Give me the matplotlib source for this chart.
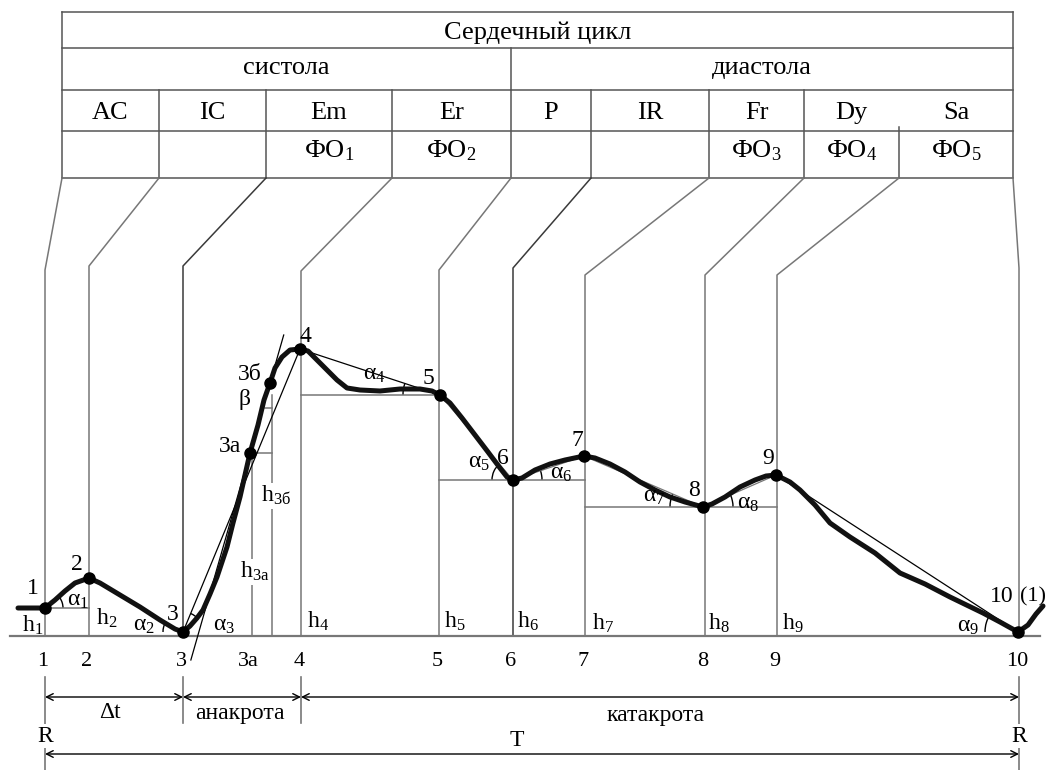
import numpy as np
import matplotlib.pyplot as plt
from matplotlib.patches import Arc

plt.rcParams['font.family'] = ['Liberation Serif', 'DejaVu Serif']
plt.rcParams['mathtext.fontset'] = 'custom'
plt.rcParams['mathtext.rm'] = 'Liberation Serif'
plt.rcParams['mathtext.it'] = 'Liberation Serif'
plt.rcParams['mathtext.bf'] = 'Liberation Serif'

# --- cardiac cycle table ---
cycle_title = 'Сердечный цикл'
period_names = ['систола', 'диастола']
phase_names = ['AC', 'IC', 'Em', 'Er', 'P', 'IR', 'Fr', 'Dy', 'Sa']
phase_fo = [None, None, 1, 2, None, None, 3, 4, 5]
phase_edges = [62, 159, 266, 392, 511, 591, 709, 804, 899, 1013]
period_split = 511

# --- time marks on the wave ---
mark_names = ['1', '2', '3', '4', '5', '6', '7', '8', '9', '10']
mark_t = [45, 89, 183, 301, 439, 513, 585, 705, 777, 1019]
mark_knee = [366, 370, 370, 365, 366, 368, 361, 361, 361, 368]
mark_3a, mark_3b = 252, 272

# --- characteristic points of the pulse wave ---
pt_names = ['1', '2', '3', '3а', '3б', '4', '5', '6', '7', '8', '9', '10']
pt_t = [45, 89, 183, 250, 270, 300, 440, 513, 584, 703, 776, 1018]
pt_h = [28, 58, 4, 183, 253, 287, 241, 156, 180, 129, 161, 4]

# traced wave contour
wave_t = [18, 45, 55, 65, 75, 89, 100, 120, 140, 160, 175, 183, 190, 197, 203, 210,
          217, 227, 233, 240, 250, 258, 264, 270, 275, 282, 290, 300, 308, 315, 325,
          337, 347, 360, 380, 400, 420, 432, 440, 450, 462, 475, 488, 500, 507, 513,
          522, 535, 550, 565, 584, 595, 610, 625, 640, 655, 670, 685, 703, 712, 725,
          740, 755, 766, 776, 790, 800, 815, 830, 850, 875, 900, 925, 950, 983, 1000,
          1018, 1028, 1036, 1043]
wave_h = [28, 28, 36, 45, 53, 58, 53, 41, 29, 16, 7, 4, 10, 18, 26, 42,
          59, 89, 113, 139, 183, 211, 236, 253, 268, 279, 286, 287, 285, 278, 268,
          256, 248, 246, 245, 247, 247, 245, 241, 233, 218, 201, 184, 168, 159, 156,
          158, 166, 172, 176, 180, 178, 172, 164, 154, 146, 139, 134, 129, 132, 139,
          149, 156, 160, 161, 154, 146, 131, 113, 99, 83, 63, 52, 39, 23, 14,
          4, 11, 22, 30]

FS = 17
TAB_FS = 19
GRAY = '#777777'
DARK = '#3a3a3a'

fig = plt.figure(figsize=(10.46, 7.70), dpi=100)
ax = fig.add_axes([0, 0, 1, 1])
ax.set_xlim(0, 1046)
ax.set_ylim(-134, 636)
ax.axis('off')

# table
rows = [624, 588, 546, 505, 458]
x0, x1 = phase_edges[0], phase_edges[-1]
for r in rows:
    ax.plot([x0, x1], [r, r], color='#555555', lw=1.1)
for x in (x0, x1):
    ax.plot([x, x], [rows[0], rows[-1]], color='#555555', lw=1.1)
ax.plot([period_split, period_split], [rows[1], rows[2]], color='#555555', lw=1.1)
for i, x in enumerate(phase_edges[1:-1], start=1):
    top = rows[2] if phase_names[i] != 'Sa' else 509
    ax.plot([x, x], [top, rows[-1]], color='#555555', lw=1.1)

ax.text((x0 + x1) / 2, 597, cycle_title, ha='center', va='baseline', fontsize=TAB_FS)
ax.text((x0 + period_split) / 2, 562, period_names[0], ha='center', va='baseline', fontsize=TAB_FS)
ax.text((period_split + x1) / 2, 562, period_names[1], ha='center', va='baseline', fontsize=TAB_FS)
for i, name in enumerate(phase_names):
    cx = (phase_edges[i] + phase_edges[i + 1]) / 2
    ax.text(cx, 517, name, ha='center', va='baseline', fontsize=TAB_FS)
    if phase_fo[i] is not None:
        ax.text(cx, 479, r'$\mathrm{ФО}_{%d}$' % phase_fo[i], ha='center',
                va='baseline', fontsize=TAB_FS)

# connectors from table columns down to the time marks
for i, (ex, mx, kh) in enumerate(zip(phase_edges, mark_t, mark_knee)):
    col = DARK if mark_names[i] in ('3', '6') else GRAY
    ax.plot([ex, mx, mx], [rows[-1], kh, 0], color=col, lw=1.1)

# baseline
ax.plot([10, 1040], [0, 0], color=GRAY, lw=1.6)

# auxiliary verticals at 3а and 3б
ax.plot([mark_3a, mark_3a], [pt_h[3], 0], color=GRAY, lw=1.1)
ax.plot([mark_3b, mark_3b], [241, 0], color=GRAY, lw=1.1)

# horizontal levels
levels = [(mark_t[0], mark_t[1], pt_h[0]),
          (pt_t[3], mark_3b, pt_h[3]),
          (265, mark_3b, 228),
          (mark_t[3], mark_t[4], pt_h[6]),
          (mark_t[4], mark_t[6], pt_h[7]),
          (mark_t[6], mark_t[8], pt_h[9])]
for a, b, h in levels:
    ax.plot([a, b], [h, h], color=GRAY, lw=1.1)


def P(name):
    i = pt_names.index(name)
    return np.array([pt_t[i], pt_h[i]], float)


def ang(a, b):
    d = P(b) - P(a)
    return np.degrees(np.arctan2(d[1], d[0]))


# chords between characteristic points
for a, b, c in [('3', '4', 'k'), ('4', '5', 'k'), ('9', '10', 'k'),
                ('5', '6', GRAY), ('6', '7', GRAY), ('7', '8', GRAY), ('8', '9', GRAY)]:
    pa, pb = P(a), P(b)
    ax.plot([pa[0], pb[0]], [pa[1], pb[1]], color=c, lw=0.9)

# tangent through 3а - 3б, extended
pa, pb = P('3а'), P('3б')
k = (pb[1] - pa[1]) / (pb[0] - pa[0])
hs = np.array([-24, 301])
ax.plot(pa[0] + (hs - pa[1]) / k, hs, color='k', lw=0.9)

# angle arcs
arcs = [('1', 18, 0, ang('1', '2')),
        ('3', 20, ang('3', '2'), 180),
        ('3', 20, 40, ang('3', '4')),
        ('5', 37, ang('5', '4'), 180),
        ('6', 21, ang('6', '5'), 180),
        ('6', 29, 0, ang('6', '7')),
        ('8', 33, ang('8', '7'), 180),
        ('8', 30, 0, ang('8', '9')),
        ('10', 33, ang('10', '9'), 180)]
for name, r, t1, t2 in arcs:
    ax.add_patch(Arc(P(name), 2 * r, 2 * r, theta1=t1, theta2=t2, color='k', lw=1.0))

# pulse wave
ax.plot(wave_t, wave_h, color='#111111', lw=3.6, solid_joinstyle='round',
        solid_capstyle='round')
ax.plot(pt_t, pt_h, 'o', color='k', ms=8)

# point labels
pt_off = {'1': (-12, 20), '2': (-12, 13), '3': (-10, 17), '3а': (-20, 6),
          '3б': (-20, 8), '4': (5, 12), '5': (-12, 17), '6': (-10, 22),
          '7': (-7, 16), '8': (-9, 17), '9': (-8, 17)}
for name, (dx, dy) in pt_off.items():
    p = P(name)
    ax.text(p[0] + dx, p[1] + dy, name, ha='center', va='center', fontsize=FS)
p10 = P('10')
ax.text(p10[0] - 4, 39, '10', ha='right', va='center', fontsize=FS)
ax.text(p10[0] + 2, 39, '(1)', ha='left', va='center', fontsize=16)
ax.text(245, 236, 'β', ha='center', va='center', fontsize=FS)

# h labels
h_labels = [('1', 22, 4), ('2', 96, 11), ('4', 307, 8), ('5', 444, 8), ('6', 517, 8),
            ('7', 592, 6), ('8', 708, 6), ('9', 782, 6)]
for s, x, h in h_labels:
    ax.text(x, h, r'$\mathrm{h}_{%s}$' % s, ha='left', va='baseline', fontsize=FS)
for s, x, h in [('3а', 240, 58), ('3б', 261, 134)]:
    ax.text(x, h, r'$\mathrm{h}_{\mathrm{%s}}$' % s, ha='left', va='baseline', fontsize=FS,
            bbox=dict(facecolor='white', edgecolor='none', pad=1))

# alpha labels
a_labels = [('1', 67, 30), ('2', 133, 5), ('3', 213, 5), ('4', 363, 256), ('5', 468, 168),
            ('6', 550, 157), ('7', 643, 134), ('8', 737, 127), ('9', 957, 4)]
for s, x, h in a_labels:
    ax.text(x, h, r'$\mathrm{α}_{%s}$' % s, ha='left', va='baseline', fontsize=FS)

# time axis numbers
for name, t in zip(mark_names, mark_t):
    ax.text(t - 2, -25, name, ha='center', va='center', fontsize=16)
ax.text(mark_3a - 4, -25, '3а', ha='center', va='center', fontsize=16)

# dimension lines
for t in (mark_t[0], mark_t[-1]):
    ax.plot([t, t], [-41, -134], color=GRAY, lw=1.2)
for t in (mark_t[2], mark_t[3]):
    ax.plot([t, t], [-41, -87], color=GRAY, lw=1.2)

arr = dict(arrowstyle='<->', lw=1.0, color='k', shrinkA=0, shrinkB=0, mutation_scale=12)
for a, b in [(mark_t[0], mark_t[2]), (mark_t[2], mark_t[3]), (mark_t[3], mark_t[-1])]:
    ax.annotate('', xy=(b, -61), xytext=(a, -61), arrowprops=arr)
ax.annotate('', xy=(mark_t[-1], -118), xytext=(mark_t[0], -118), arrowprops=arr)

ax.text(110, -76, 'Δt', ha='center', va='center', fontsize=FS)
ax.text(240, -77, 'анакрота', ha='center', va='center', fontsize=FS)
ax.text(656, -79, 'катакрота', ha='center', va='center', fontsize=FS)
ax.text(517, -104, 'T', ha='center', va='center', fontsize=FS)
for t in (mark_t[0], mark_t[-1]):
    ax.text(t, -100, 'R', ha='center', va='center', fontsize=FS,
            bbox=dict(facecolor='white', edgecolor='none', pad=1))

fig.savefig('out.png', dpi=100, facecolor='white')
